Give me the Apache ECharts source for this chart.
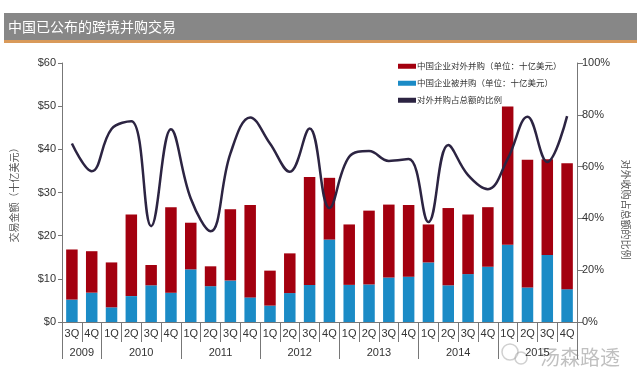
<!DOCTYPE html>
<html>
<head>
<meta charset="utf-8">
<script src="https://cdn.jsdelivr.net/npm/echarts@6/dist/echarts.min.js"></script>
<style>html,body{margin:0;padding:0;background:#fff;}#c{width:640px;height:388px;}</style>
</head>
<body>
<div id="c"></div>
<script>
var quarters = ['3Q','4Q','1Q','2Q','3Q','4Q','1Q','2Q','3Q','4Q','1Q','2Q','3Q','4Q','1Q','2Q','3Q','4Q','1Q','2Q','3Q','4Q','1Q','2Q','3Q','4Q'];
var years = ['2009','2010','2011','2012','2013','2014','2015'];
var yearQuarterCounts = [2,4,4,4,4,4,4];
var outbound = [11.6,9.6,10.4,18.9,4.7,19.8,10.8,4.6,16.5,21.4,8.1,9.2,25.0,14.3,14.0,17.1,16.9,16.6,8.8,17.9,13.8,13.8,32.0,29.6,22.2,29.2];
var inbound = [5.2,6.8,3.4,6.0,8.5,6.8,12.2,8.3,9.6,5.7,3.8,6.7,8.6,19.1,8.6,8.7,10.3,10.5,13.8,8.5,11.1,12.8,17.9,8.0,15.5,7.6];
var ratio = [68.9,58.2,74.5,77.5,37,74.4,47.7,35,65,79,68.9,58,74.7,44,63.8,66,62.2,62.9,38.6,68.3,56.7,51.3,63,79.2,61.8,79.5];
var leftTicks = {min:0, max:60, interval:10};
var rightTicks = {min:0, max:100, interval:20};

var bounds = [0], centers = [], yearAt = {};
yearQuarterCounts.forEach(function(n, i){
  var s = bounds[bounds.length-1];
  centers.push(s + n/2);
  yearAt[s + n/2] = years[i];
  bounds.push(s + n);
});

var FONT = 'Liberation Sans, Arial, sans-serif';
var CJK = 'Noto Sans CJK SC, sans-serif';
var chart = echarts.init(document.getElementById('c'), null, {renderer:'canvas'});
chart.setOption({
  animation: false,
  backgroundColor: '#fff',
  grid: {left: 62, right: 63, top: 63, bottom: 66, containLabel: false},
  graphic: [
    {type:'rect', shape:{x:4, y:13, width:633, height:27}, style:{fill:'#878787'}},
    {type:'rect', shape:{x:4, y:40, width:633, height:3}, style:{fill:'#d99a5a'}},
    {type:'text', x:8, y:27, style:{text:'中国已公布的跨境并购交易', fill:'#fff', font:'14px ' + CJK, textVerticalAlign:'middle'}},
    {type:'circle', shape:{cx:510, cy:352, r:8}, style:{fill:'none', stroke:'rgba(150,150,150,0.45)', lineWidth:1.5}},
    {type:'circle', shape:{cx:521, cy:358, r:6}, style:{fill:'none', stroke:'rgba(150,150,150,0.45)', lineWidth:1.5}},
    {type:'text', x:540, y:357, style:{text:'汤森路透', fill:'rgba(140,140,140,0.55)', font:'20px ' + CJK, textVerticalAlign:'middle'}}
  ],
  legend: {
    orient: 'vertical', left: 393, top: 57, itemWidth: 18, itemHeight: 5, itemGap: 8.5,
    icon: 'rect',
    textStyle: {fontSize: 8.5, color: '#333', fontFamily: CJK, padding:[0,0,0,-4]},
    data: ['中国企业对外并购（单位：十亿美元）', '中国企业被并购（单位：十亿美元）', '对外并购占总额的比例']
  },
  xAxis: [
    {
      type: 'category', data: quarters, position: 'bottom',
      axisLine: {show: true, lineStyle: {color: '#777', width: 1}},
      axisTick: {show: true, interval: 0, length: 20, lineStyle: {color: '#777'}},
      axisLabel: {interval: 0, margin: 6, fontSize: 11, color: '#333', fontFamily: FONT},
      splitLine: {show: false}
    },
    {
      type: 'value', min: 0, max: bounds[bounds.length-1], position: 'bottom',
      axisLine: {show: false},
      axisTick: {show: true, customValues: bounds, length: 37, lineStyle: {color: '#777'}},
      axisLabel: {show: true, customValues: centers, margin: 25, fontSize: 11, color: '#333', fontFamily: FONT,
        formatter: function(v){ return yearAt[v] || ''; }},
      splitLine: {show: false}
    }
  ],
  yAxis: [
    {
      type: 'value', min: leftTicks.min, max: leftTicks.max, interval: leftTicks.interval, position: 'left',
      name: '交易金额（十亿美元）', nameLocation: 'middle', nameGap: 43, nameRotate: 90,
      nameTextStyle: {fontSize: 10, color: '#555', fontFamily: CJK},
      axisLine: {show: true, lineStyle: {color: '#777'}},
      axisTick: {show: true, length: 4, lineStyle: {color: '#777'}},
      axisLabel: {fontSize: 11, color: '#333', fontFamily: FONT, margin: 6, formatter: function(v){return '$' + v;}},
      splitLine: {show: false}
    },
    {
      type: 'value', min: rightTicks.min, max: rightTicks.max, interval: rightTicks.interval, position: 'right',
      name: '对外收购占总额的比例', nameLocation: 'middle', nameGap: 42, nameRotate: -90,
      nameTextStyle: {fontSize: 10, color: '#555', fontFamily: CJK, padding: [0, 0, 0, 34]},
      axisLine: {show: true, lineStyle: {color: '#777'}},
      axisTick: {show: true, length: 6, lineStyle: {color: '#777'}},
      axisLabel: {fontSize: 11, color: '#333', fontFamily: FONT, margin: 5, formatter: function(v){return v + '%';}},
      splitLine: {show: false}
    }
  ],
  series: [
    {name: '中国企业被并购（单位：十亿美元）', type: 'bar', stack: 'a', data: inbound, barWidth: 11.5,
      itemStyle: {color: '#1b8bc6'}},
    {name: '中国企业对外并购（单位：十亿美元）', type: 'bar', stack: 'a', data: outbound, barWidth: 11.5,
      itemStyle: {color: '#a3000f'}},
    {name: '对外并购占总额的比例', type: 'line', yAxisIndex: 1, data: ratio, smooth: 0.4, showSymbol: false, symbol: 'none',
      lineStyle: {color: '#2c2442', width: 2.5}, itemStyle: {color: '#2c2442'}, z: 5}
  ]
});
</script>
</body>
</html>
